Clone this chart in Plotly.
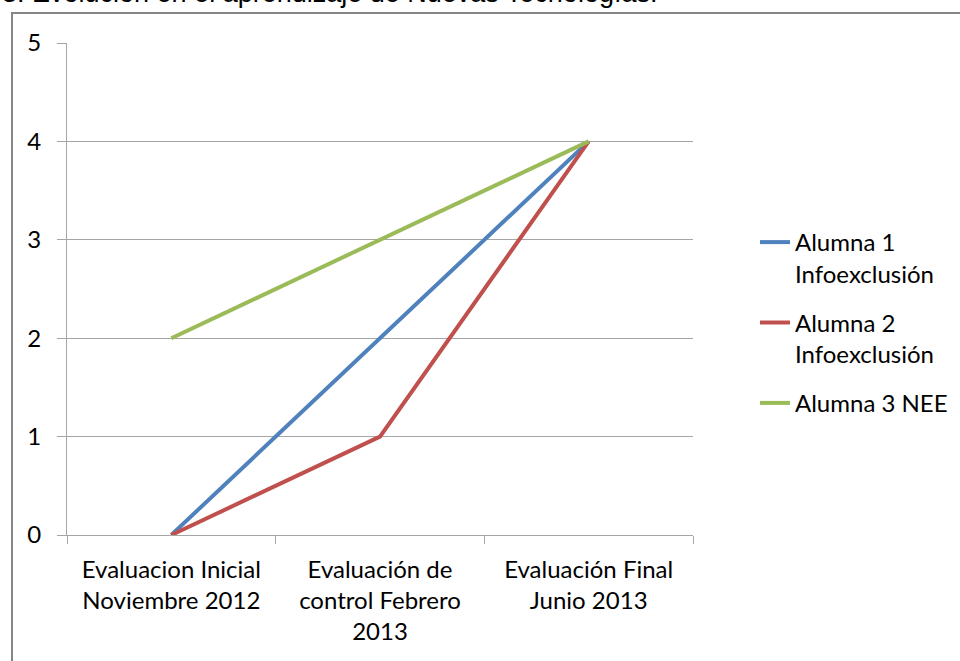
import plotly.graph_objects as go

categories = ["Evaluacion Inicial<br>Noviembre 2012",
              "Evaluación de<br>control Febrero<br>2013",
              "Evaluación Final<br>Junio 2013"]
series_names = ["Alumna 1<br>Infoexclusión", "Alumna 2<br>Infoexclusión", "Alumna 3 NEE"]
alumna1 = [0, 2, 4]
alumna2 = [0, 1, 4]
alumna3 = [2, 3, 4]
y_ticks = [0, 1, 2, 3, 4, 5]
title_text = "3. Evolución en el aprendizaje de Nuevas Tecnologías."

colors = ["#4F81BD", "#C0504D", "#9BBB59"]
FONT = "Lato, Carlito, Calibri, sans-serif"
FS = 24

W, H = 960, 661
L, R, T, B = 67, 960 - 693, 43, 661 - 535
pw, ph = W - L - R, H - T - B

def px(x):
    return (x - L) / pw

def py(y):
    return (H - B - y) / ph

fig = go.Figure()
for i, (name, vals, c) in enumerate(zip(series_names, [alumna1, alumna2, alumna3], colors)):
    fig.add_trace(go.Scatter(x=categories, y=vals, name=name, mode="lines",
                             legendgroup=f"g{i}",
                             line=dict(color=c, width=4)))

grid = "#A6A6A6"
fig.update_layout(
    width=W, height=H,
    margin=dict(l=L, r=R, t=T, b=B, pad=0, autoexpand=False),
    plot_bgcolor="white", paper_bgcolor="white",
    font=dict(family=FONT, size=FS, color="#000000"),
    showlegend=True,
    legend=dict(x=px(755), y=py(220), xanchor="left", yanchor="top",
                valign="top", font=dict(size=FS, family=FONT),
                bgcolor="rgba(0,0,0,0)", itemwidth=30, tracegroupgap=15),
    xaxis=dict(type="category", range=[-0.5, 2.5], showgrid=False,
               showline=True, linecolor=grid, linewidth=1,
               ticks="outside", tickson="boundaries", ticklen=8,
               tickcolor=grid, tickfont=dict(size=FS, family=FONT),
               ticklabelstandoff=13, fixedrange=True),
    yaxis=dict(range=[0, 5], tickvals=y_ticks, showgrid=True, gridcolor=grid,
               gridwidth=1, showline=True, linecolor=grid, linewidth=1,
               ticks="outside", ticklen=9, tickcolor=grid,
               tickfont=dict(size=FS, family=FONT), ticklabelstandoff=11,
               zeroline=False, fixedrange=True),
    shapes=[dict(type="rect", xref="paper", yref="paper",
                 x0=px(12), x1=px(975), y0=py(680), y1=py(13),
                 line=dict(color="#868686", width=2), fillcolor="rgba(0,0,0,0)",
                 layer="below")],
    annotations=[dict(text=title_text, xref="paper", yref="paper",
                      x=px(0), y=py(10), xanchor="left", yanchor="bottom",
                      showarrow=False,
                      font=dict(family="Liberation Sans, Arial, sans-serif",
                                size=27, color="#000000"))],
)

fig.write_html("out.html", config={"displayModeBar": False},
               post_script="document.body.style.margin='0';document.body.style.overflow='hidden';")
